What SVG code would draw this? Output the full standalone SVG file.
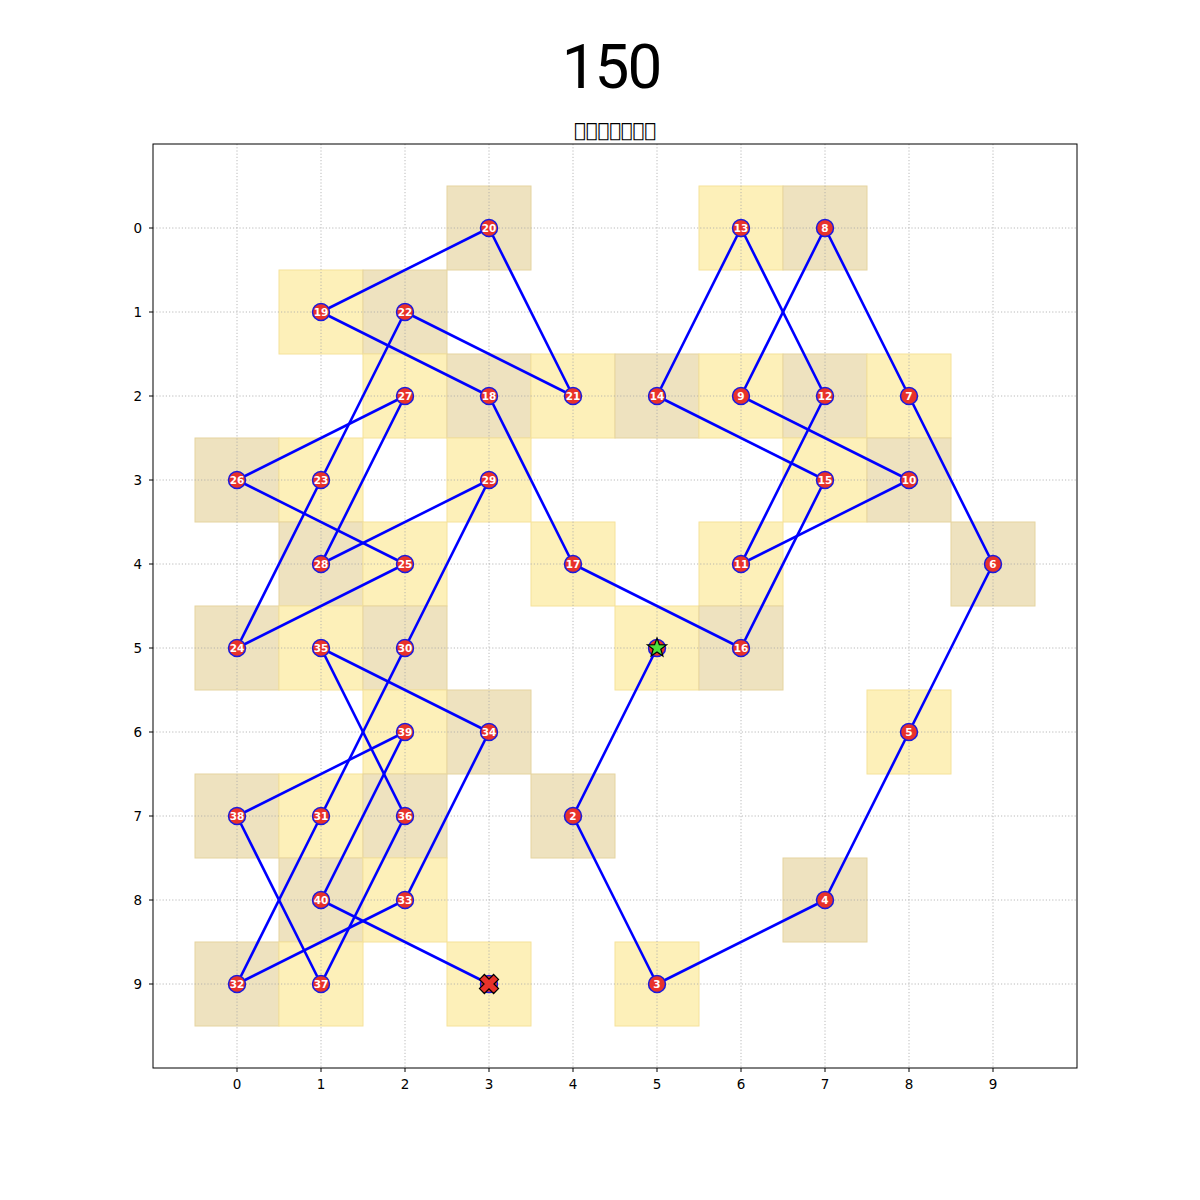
<svg xmlns="http://www.w3.org/2000/svg" width="1200" height="1200" viewBox="0 0 1200 1200">
<style>
.cy{fill:#fdf0b9;stroke:#f5e29a;stroke-width:1}
.ct{fill:#eee2bf;stroke:#e5d49f;stroke-width:1}
.grid line{stroke:#a8a8a8;stroke-width:0.8;stroke-dasharray:1.2,2}
.tick{stroke:#000;stroke-width:1}
.tl{font-family:"DejaVu Sans",sans-serif;font-size:13.5px;fill:#000}
.conn line{stroke:#0000ff;stroke-width:2.6;stroke-linecap:round}
.node circle{fill:#e8322a;stroke:#1a1adf;stroke-width:1.5}
.node text{font-family:"DejaVu Sans",sans-serif;font-weight:bold;font-size:10.5px;fill:#fff;text-anchor:middle}
</style>
<rect width="1200" height="1200" fill="#fff"/>
<text x="611" y="88" font-family="Roboto,sans-serif" font-size="62" letter-spacing="-2" text-anchor="middle">150</text>
<text x="615" y="137" font-family="DejaVu Sans,sans-serif" font-size="19.5" text-anchor="middle">&#xE000;&#xE001;&#xE002;&#xE003;&#xE004;&#xE005;&#xE006;</text>
<g id="cells">
<rect class="ct" x="447" y="186" width="84" height="84"/>
<rect class="cy" x="699" y="186" width="84" height="84"/>
<rect class="ct" x="783" y="186" width="84" height="84"/>
<rect class="cy" x="279" y="270" width="84" height="84"/>
<rect class="ct" x="363" y="270" width="84" height="84"/>
<rect class="cy" x="363" y="354" width="84" height="84"/>
<rect class="ct" x="447" y="354" width="84" height="84"/>
<rect class="cy" x="531" y="354" width="84" height="84"/>
<rect class="ct" x="615" y="354" width="84" height="84"/>
<rect class="cy" x="699" y="354" width="84" height="84"/>
<rect class="ct" x="783" y="354" width="84" height="84"/>
<rect class="cy" x="867" y="354" width="84" height="84"/>
<rect class="ct" x="195" y="438" width="84" height="84"/>
<rect class="cy" x="279" y="438" width="84" height="84"/>
<rect class="cy" x="447" y="438" width="84" height="84"/>
<rect class="cy" x="783" y="438" width="84" height="84"/>
<rect class="ct" x="867" y="438" width="84" height="84"/>
<rect class="ct" x="279" y="522" width="84" height="84"/>
<rect class="cy" x="363" y="522" width="84" height="84"/>
<rect class="cy" x="531" y="522" width="84" height="84"/>
<rect class="cy" x="699" y="522" width="84" height="84"/>
<rect class="ct" x="951" y="522" width="84" height="84"/>
<rect class="ct" x="195" y="606" width="84" height="84"/>
<rect class="cy" x="279" y="606" width="84" height="84"/>
<rect class="ct" x="363" y="606" width="84" height="84"/>
<rect class="cy" x="615" y="606" width="84" height="84"/>
<rect class="ct" x="699" y="606" width="84" height="84"/>
<rect class="cy" x="363" y="690" width="84" height="84"/>
<rect class="ct" x="447" y="690" width="84" height="84"/>
<rect class="cy" x="867" y="690" width="84" height="84"/>
<rect class="ct" x="195" y="774" width="84" height="84"/>
<rect class="cy" x="279" y="774" width="84" height="84"/>
<rect class="ct" x="363" y="774" width="84" height="84"/>
<rect class="ct" x="531" y="774" width="84" height="84"/>
<rect class="ct" x="279" y="858" width="84" height="84"/>
<rect class="cy" x="363" y="858" width="84" height="84"/>
<rect class="ct" x="783" y="858" width="84" height="84"/>
<rect class="ct" x="195" y="942" width="84" height="84"/>
<rect class="cy" x="279" y="942" width="84" height="84"/>
<rect class="cy" x="447" y="942" width="84" height="84"/>
<rect class="cy" x="615" y="942" width="84" height="84"/>
</g>
<g class="grid">
<line x1="237" y1="144" x2="237" y2="1068"/><line x1="321" y1="144" x2="321" y2="1068"/><line x1="405" y1="144" x2="405" y2="1068"/><line x1="489" y1="144" x2="489" y2="1068"/><line x1="573" y1="144" x2="573" y2="1068"/><line x1="657" y1="144" x2="657" y2="1068"/><line x1="741" y1="144" x2="741" y2="1068"/><line x1="825" y1="144" x2="825" y2="1068"/><line x1="909" y1="144" x2="909" y2="1068"/><line x1="993" y1="144" x2="993" y2="1068"/>
<line x1="153" y1="228" x2="1077" y2="228"/><line x1="153" y1="312" x2="1077" y2="312"/><line x1="153" y1="396" x2="1077" y2="396"/><line x1="153" y1="480" x2="1077" y2="480"/><line x1="153" y1="564" x2="1077" y2="564"/><line x1="153" y1="648" x2="1077" y2="648"/><line x1="153" y1="732" x2="1077" y2="732"/><line x1="153" y1="816" x2="1077" y2="816"/><line x1="153" y1="900" x2="1077" y2="900"/><line x1="153" y1="984" x2="1077" y2="984"/>
</g>
<rect x="153" y="144" width="924" height="924" fill="none" stroke="#000" stroke-width="1"/>
<g class="tick">
<line x1="237" y1="1068" x2="237" y2="1072"/><line x1="321" y1="1068" x2="321" y2="1072"/><line x1="405" y1="1068" x2="405" y2="1072"/><line x1="489" y1="1068" x2="489" y2="1072"/><line x1="573" y1="1068" x2="573" y2="1072"/><line x1="657" y1="1068" x2="657" y2="1072"/><line x1="741" y1="1068" x2="741" y2="1072"/><line x1="825" y1="1068" x2="825" y2="1072"/><line x1="909" y1="1068" x2="909" y2="1072"/><line x1="993" y1="1068" x2="993" y2="1072"/>
<line x1="149" y1="228" x2="153" y2="228"/><line x1="149" y1="312" x2="153" y2="312"/><line x1="149" y1="396" x2="153" y2="396"/><line x1="149" y1="480" x2="153" y2="480"/><line x1="149" y1="564" x2="153" y2="564"/><line x1="149" y1="648" x2="153" y2="648"/><line x1="149" y1="732" x2="153" y2="732"/><line x1="149" y1="816" x2="153" y2="816"/><line x1="149" y1="900" x2="153" y2="900"/><line x1="149" y1="984" x2="153" y2="984"/>
</g>
<g class="tl" text-anchor="middle">
<text x="237" y="1089">0</text><text x="321" y="1089">1</text><text x="405" y="1089">2</text><text x="489" y="1089">3</text><text x="573" y="1089">4</text><text x="657" y="1089">5</text><text x="741" y="1089">6</text><text x="825" y="1089">7</text><text x="909" y="1089">8</text><text x="993" y="1089">9</text>
</g>
<g class="tl" text-anchor="end">
<text x="142" y="233">0</text><text x="142" y="317">1</text><text x="142" y="401">2</text><text x="142" y="485">3</text><text x="142" y="569">4</text><text x="142" y="653">5</text><text x="142" y="737">6</text><text x="142" y="821">7</text><text x="142" y="905">8</text><text x="142" y="989">9</text>
</g>
<g id="connectors" class="conn">
<line x1="657" y1="648" x2="573" y2="816"/>
<line x1="573" y1="816" x2="657" y2="984"/>
<line x1="657" y1="984" x2="825" y2="900"/>
<line x1="825" y1="900" x2="909" y2="732"/>
<line x1="909" y1="732" x2="993" y2="564"/>
<line x1="993" y1="564" x2="909" y2="396"/>
<line x1="909" y1="396" x2="825" y2="228"/>
<line x1="825" y1="228" x2="741" y2="396"/>
<line x1="741" y1="396" x2="909" y2="480"/>
<line x1="909" y1="480" x2="741" y2="564"/>
<line x1="741" y1="564" x2="825" y2="396"/>
<line x1="825" y1="396" x2="741" y2="228"/>
<line x1="741" y1="228" x2="657" y2="396"/>
<line x1="657" y1="396" x2="825" y2="480"/>
<line x1="825" y1="480" x2="741" y2="648"/>
<line x1="741" y1="648" x2="573" y2="564"/>
<line x1="573" y1="564" x2="489" y2="396"/>
<line x1="489" y1="396" x2="321" y2="312"/>
<line x1="321" y1="312" x2="489" y2="228"/>
<line x1="489" y1="228" x2="573" y2="396"/>
<line x1="573" y1="396" x2="405" y2="312"/>
<line x1="405" y1="312" x2="321" y2="480"/>
<line x1="321" y1="480" x2="237" y2="648"/>
<line x1="237" y1="648" x2="405" y2="564"/>
<line x1="405" y1="564" x2="237" y2="480"/>
<line x1="237" y1="480" x2="405" y2="396"/>
<line x1="405" y1="396" x2="321" y2="564"/>
<line x1="321" y1="564" x2="489" y2="480"/>
<line x1="489" y1="480" x2="405" y2="648"/>
<line x1="405" y1="648" x2="321" y2="816"/>
<line x1="321" y1="816" x2="237" y2="984"/>
<line x1="237" y1="984" x2="405" y2="900"/>
<line x1="405" y1="900" x2="489" y2="732"/>
<line x1="489" y1="732" x2="321" y2="648"/>
<line x1="321" y1="648" x2="405" y2="816"/>
<line x1="405" y1="816" x2="321" y2="984"/>
<line x1="321" y1="984" x2="237" y2="816"/>
<line x1="237" y1="816" x2="405" y2="732"/>
<line x1="405" y1="732" x2="321" y2="900"/>
<line x1="321" y1="900" x2="489" y2="984"/>
</g>
<g id="nodes" class="node">
<g id="n1"><circle cx="657" cy="648" r="8.5"/></g>
<g id="n2"><circle cx="573" cy="816" r="8.5"/><text x="573" y="820">2</text></g>
<g id="n3"><circle cx="657" cy="984" r="8.5"/><text x="657" y="988">3</text></g>
<g id="n4"><circle cx="825" cy="900" r="8.5"/><text x="825" y="904">4</text></g>
<g id="n5"><circle cx="909" cy="732" r="8.5"/><text x="909" y="736">5</text></g>
<g id="n6"><circle cx="993" cy="564" r="8.5"/><text x="993" y="568">6</text></g>
<g id="n7"><circle cx="909" cy="396" r="8.5"/><text x="909" y="400">7</text></g>
<g id="n8"><circle cx="825" cy="228" r="8.5"/><text x="825" y="232">8</text></g>
<g id="n9"><circle cx="741" cy="396" r="8.5"/><text x="741" y="400">9</text></g>
<g id="n10"><circle cx="909" cy="480" r="8.5"/><text x="909" y="484">10</text></g>
<g id="n11"><circle cx="741" cy="564" r="8.5"/><text x="741" y="568">11</text></g>
<g id="n12"><circle cx="825" cy="396" r="8.5"/><text x="825" y="400">12</text></g>
<g id="n13"><circle cx="741" cy="228" r="8.5"/><text x="741" y="232">13</text></g>
<g id="n14"><circle cx="657" cy="396" r="8.5"/><text x="657" y="400">14</text></g>
<g id="n15"><circle cx="825" cy="480" r="8.5"/><text x="825" y="484">15</text></g>
<g id="n16"><circle cx="741" cy="648" r="8.5"/><text x="741" y="652">16</text></g>
<g id="n17"><circle cx="573" cy="564" r="8.5"/><text x="573" y="568">17</text></g>
<g id="n18"><circle cx="489" cy="396" r="8.5"/><text x="489" y="400">18</text></g>
<g id="n19"><circle cx="321" cy="312" r="8.5"/><text x="321" y="316">19</text></g>
<g id="n20"><circle cx="489" cy="228" r="8.5"/><text x="489" y="232">20</text></g>
<g id="n21"><circle cx="573" cy="396" r="8.5"/><text x="573" y="400">21</text></g>
<g id="n22"><circle cx="405" cy="312" r="8.5"/><text x="405" y="316">22</text></g>
<g id="n23"><circle cx="321" cy="480" r="8.5"/><text x="321" y="484">23</text></g>
<g id="n24"><circle cx="237" cy="648" r="8.5"/><text x="237" y="652">24</text></g>
<g id="n25"><circle cx="405" cy="564" r="8.5"/><text x="405" y="568">25</text></g>
<g id="n26"><circle cx="237" cy="480" r="8.5"/><text x="237" y="484">26</text></g>
<g id="n27"><circle cx="405" cy="396" r="8.5"/><text x="405" y="400">27</text></g>
<g id="n28"><circle cx="321" cy="564" r="8.5"/><text x="321" y="568">28</text></g>
<g id="n29"><circle cx="489" cy="480" r="8.5"/><text x="489" y="484">29</text></g>
<g id="n30"><circle cx="405" cy="648" r="8.5"/><text x="405" y="652">30</text></g>
<g id="n31"><circle cx="321" cy="816" r="8.5"/><text x="321" y="820">31</text></g>
<g id="n32"><circle cx="237" cy="984" r="8.5"/><text x="237" y="988">32</text></g>
<g id="n33"><circle cx="405" cy="900" r="8.5"/><text x="405" y="904">33</text></g>
<g id="n34"><circle cx="489" cy="732" r="8.5"/><text x="489" y="736">34</text></g>
<g id="n35"><circle cx="321" cy="648" r="8.5"/><text x="321" y="652">35</text></g>
<g id="n36"><circle cx="405" cy="816" r="8.5"/><text x="405" y="820">36</text></g>
<g id="n37"><circle cx="321" cy="984" r="8.5"/><text x="321" y="988">37</text></g>
<g id="n38"><circle cx="237" cy="816" r="8.5"/><text x="237" y="820">38</text></g>
<g id="n39"><circle cx="405" cy="732" r="8.5"/><text x="405" y="736">39</text></g>
<g id="n40"><circle cx="321" cy="900" r="8.5"/><text x="321" y="904">40</text></g>
<g id="n41"><circle cx="489" cy="984" r="8.5"/></g>
</g>
<g id="start-marker">
<polygon transform="translate(657,648)" points="0,-10 2.35,-3.24 9.51,-3.09 3.8,1.24 5.88,8.09 0,4 -5.88,8.09 -3.8,1.24 -9.51,-3.09 -2.35,-3.24" fill="#4ce03c" stroke="#000" stroke-width="1.2" stroke-linejoin="miter"/>
</g>
<g id="end-marker">
<polygon transform="translate(489,984) rotate(45)" points="-3.5,-10 3.5,-10 3.5,-3.5 10,-3.5 10,3.5 3.5,3.5 3.5,10 -3.5,10 -3.5,3.5 -10,3.5 -10,-3.5 -3.5,-3.5" fill="#e8322a" stroke="#000" stroke-width="1.2"/>
</g>
</svg>
